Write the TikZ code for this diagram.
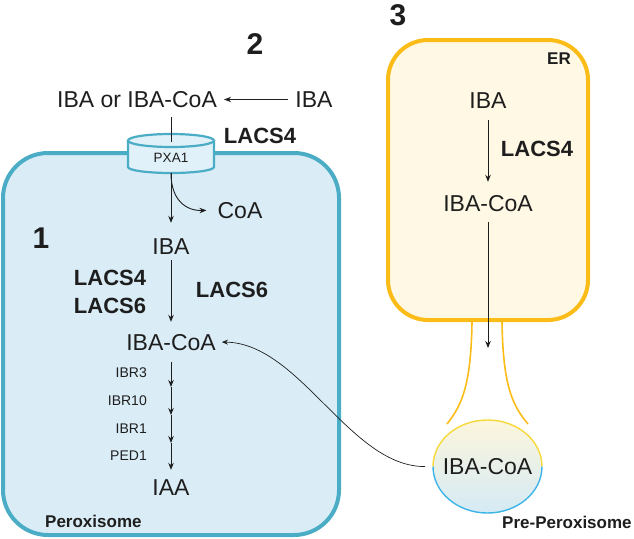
\documentclass[tikz,border=0pt]{standalone}
\usepackage{fontspec}
\setmainfont{Liberation Sans}
\usetikzlibrary{arrows.meta,shapes.geometric}
\definecolor{perstroke}{HTML}{4BACC6}
\definecolor{perfill}{HTML}{DAEDF7}
\definecolor{erstroke}{HTML}{FBBC18}
\definecolor{erfill}{HTML}{FEF8E4}
\definecolor{pretop}{HTML}{F7D93A}
\definecolor{prebot}{HTML}{3DB5E8}
\definecolor{preshtop}{HTML}{FCF6DC}
\definecolor{preshbot}{HTML}{D5EAF5}
\definecolor{ink}{HTML}{1E1E1E}
\begin{document}
\begin{tikzpicture}[x=1pt,y=-1pt,
  txt/.style={inner sep=0pt, text height=16.5pt, text depth=0pt, text=ink, font=\fontsize{23}{23}\selectfont},
  boldlbl/.style={inner sep=0pt, text height=16pt, text depth=0pt, text=ink, font=\fontsize{22}{22}\selectfont\bfseries},
  small/.style={inner sep=0pt, text height=10pt, text depth=0pt, text=ink, font=\fontsize{14}{14}\selectfont},
  lbl/.style={inner sep=0pt, text height=12.4pt, text depth=0pt, text=ink, font=\fontsize{17}{17}\selectfont\bfseries},
  num/.style={inner sep=0pt, text height=21pt, text depth=0pt, text=ink, font=\fontsize{30}{30}\selectfont\bfseries},
  arr/.style={-{Stealth[length=7pt,width=5.5pt]}, line width=0.9pt, draw=ink},
  thin arr/.style={-{Stealth[length=6pt,width=5pt]}, line width=0.7pt, draw=ink},
  membrane/.style={line width=4pt, rounded corners=45pt},
  stalk/.style={line width=1.6pt, draw=erstroke},
]
\useasboundingbox (0,0) rectangle (634,538);

% compartments
\draw[membrane, draw=perstroke, fill=perfill] (3,153) rectangle (339,535);
\draw[membrane, draw=erstroke, fill=erfill, rounded corners=40pt] (388,40) rectangle (588,320);

% PXA1 transporter
\draw[line width=2.2pt, draw=perstroke, fill=perfill!80!white]
  (128,140.5) -- (128,167) arc[start angle=180, end angle=360, x radius=43pt, y radius=6pt] -- (214,140.5);
\draw[line width=2.2pt, draw=perstroke, fill=perfill!80!white] (171,140.5) ellipse [x radius=43pt, y radius=6.5pt];
\node[inner sep=0pt, minimum width=86pt, minimum height=39pt] (pxa) at (171,153.5) {};
\node[small, font=\fontsize{13.5}{13.5}\selectfont] (pxatext) at (171,157) {PXA1};

% stalk and pre-peroxisome
\draw[stalk] (472,322) .. controls (471,385) and (462,405) .. (447,424);
\draw[stalk] (502,322) .. controls (503,385) and (512,405) .. (528,424);
\shade[top color=preshtop, bottom color=preshbot] (487.5,466.5) ellipse [x radius=54.5pt, y radius=46.5pt];
\draw[line width=1.4pt, draw=pretop] (542,466.5) arc[start angle=0, end angle=180, x radius=54.5pt, y radius=46.5pt];
\draw[line width=1.4pt, draw=prebot] (433,466.5) arc[start angle=180, end angle=360, x radius=54.5pt, y radius=46.5pt];
\node[txt] (pre) at (487.5,466.5) {IBA-CoA};
\coordinate (prew) at (433,466.5);

% numbers and labels
\node[num] (n1) at (41,238) {1};
\node[num] (n2) at (255,44) {2};
\node[num] (n3) at (398,15) {3};
\node[lbl, anchor=west] (perlbl) at (45,521.5) {Peroxisome};
\node[lbl, anchor=west] (prelbl) at (502,522.5) {Pre-Peroxisome};
\node[lbl, anchor=west] (erlbl) at (547,58) {ER};

% route 2
\node[txt] (ibaor) at (137,99.5) {IBA or IBA-CoA};
\node[txt] (ibaout) at (314,99.5) {IBA};
\node[boldlbl] (lacsA) at (260,135) {LACS4};
\draw[arr, shorten <=7pt, shorten >=7pt] (ibaout) -- (ibaor.east);
\draw[line width=0.9pt, draw=ink, shorten <=9pt, shorten >=11.5pt] (ibaor.south -| pxa.center) -- (pxa.center);

% route 1 (peroxisome)
\node[txt] (coa) at (240,210) {CoA};
\node[txt] (ibaP) at (171,246) {IBA};
\node[txt] (coaP) at (171,342) {IBA-CoA};
\node[txt] (iaa) at (171,487) {IAA};
\node[boldlbl] (lacsB) at (110,277) {LACS4};
\node[boldlbl] (lacsC) at (110,305) {LACS6};
\node[boldlbl] (lacsD) at (232,289) {LACS6};
\draw[arr, shorten >=14.75pt] (pxa.south) -- (ibaP);
\draw[arr, shorten >=11pt] (pxa.south) .. controls (171,200) and (186,211) .. (coa.west);
\draw[arr, shorten <=5.75pt, shorten >=11.75pt] (ibaP) -- (coaP);

\coordinate (k1) at (171,387);
\coordinate (k2) at (171,415);
\coordinate (k3) at (171,443);
\draw[arr, shorten <=11.75pt] (coaP) -- (k1);
\draw[arr] (k1) -- (k2);
\draw[arr] (k2) -- (k3);
\draw[arr, shorten >=8.75pt] (k3) -- (iaa);
\node[small, anchor=east] (ibr3) at (147,372) {IBR3};
\node[small, anchor=east] (ibr10) at (147,400) {IBR10};
\node[small, anchor=east] (ibr1) at (147,428) {IBR1};
\node[small, anchor=east] (ped1) at (147,455) {PED1};

% route 3 (ER)
\node[txt] (ibaER) at (488,100) {IBA};
\node[txt] (coaER) at (488,203.5) {IBA-CoA};
\node[boldlbl] (lacsE) at (537,148) {LACS4};
\coordinate (bud) at (488,348);
\draw[arr, shorten <=11.75pt, shorten >=13.25pt] (ibaER) -- (coaER);
\draw[arr, shorten <=10pt] (coaER) -- (bud);

% import of pre-peroxisome IBA-CoA
\draw[thin arr, shorten <=8pt, shorten >=6pt] (prew) .. controls (350,467) and (300,343) .. (coaP.east);
\end{tikzpicture}
\end{document}
